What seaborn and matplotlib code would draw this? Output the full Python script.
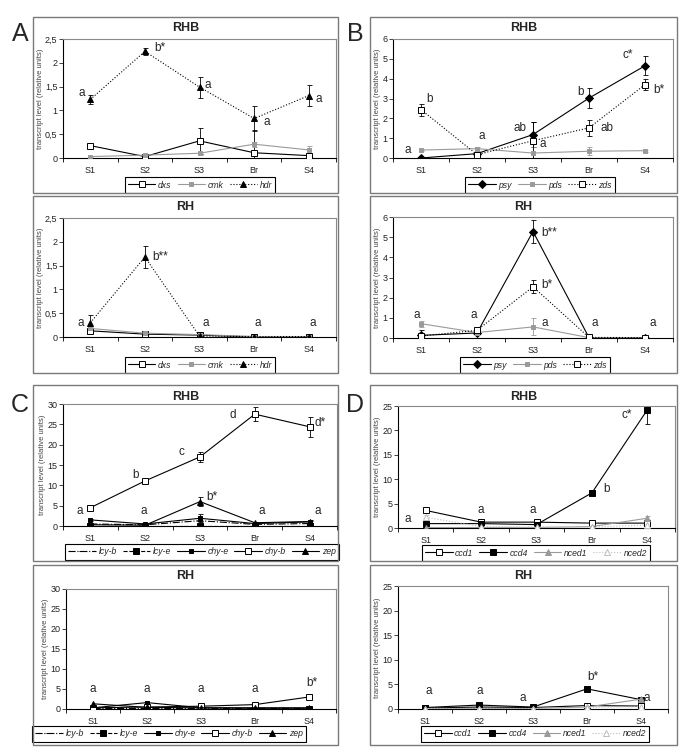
import numpy as np
import pandas as pd
import seaborn as sns
import matplotlib
matplotlib.use('Agg')
import matplotlib.pyplot as plt
from matplotlib.patches import Rectangle
from matplotlib.ticker import FuncFormatter, FixedLocator

# ---- data ----
stages = ["S1", "S2", "S3", "Br", "S4"]

# panel A  (MEP pathway)
a_rhb_dxs = [0.26, 0.03, 0.36, 0.11, 0.05]
a_rhb_dxs_err = [0.02, 0.01, 0.27, 0.48, 0.03]
a_rhb_cmk = [0.03, 0.06, 0.10, 0.29, 0.17]
a_rhb_cmk_err = [0.01, 0.02, 0.03, 0.05, 0.09]
a_rhb_hdr = [1.23, 2.24, 1.49, 0.83, 1.31]
a_rhb_hdr_err = [0.10, 0.08, 0.22, 0.26, 0.22]

a_rh_dxs = [0.13, 0.06, 0.04, 0.0, 0.0]
a_rh_dxs_err = [0.02, 0.01, 0.01, 0.0, 0.0]
a_rh_cmk = [0.18, 0.08, 0.05, 0.01, 0.0]
a_rh_cmk_err = [0.03, 0.02, 0.02, 0.0, 0.0]
a_rh_hdr = [0.30, 1.68, 0.02, 0.01, 0.01]
a_rh_hdr_err = [0.17, 0.24, 0.01, 0.0, 0.0]

# panel B
b_rhb_psy = [0.0, 0.22, 1.18, 3.02, 4.65]
b_rhb_psy_err = [0.02, 0.10, 0.62, 0.50, 0.47]
b_rhb_pds = [0.40, 0.47, 0.25, 0.34, 0.37]
b_rhb_pds_err = [0.03, 0.10, 0.30, 0.20, 0.05]
b_rhb_zds = [2.44, 0.17, 0.87, 1.52, 3.70]
b_rhb_zds_err = [0.30, 0.10, 0.95, 0.40, 0.27]

b_rh_psy = [0.13, 0.25, 5.28, 0.02, 0.0]
b_rh_psy_err = [0.05, 0.05, 0.58, 0.0, 0.0]
b_rh_pds = [0.71, 0.27, 0.55, 0.02, 0.0]
b_rh_pds_err = [0.15, 0.05, 0.42, 0.0, 0.0]
b_rh_zds = [0.10, 0.38, 2.54, 0.03, 0.02]
b_rh_zds_err = [0.28, 0.10, 0.32, 0.0, 0.0]

# panel C
c_rhb_lcyb = [0.5, 0.3, 1.3, 0.4, 0.6]
c_rhb_lcye = [0.1, 0.1, 0.1, 0.1, 0.1]
c_rhb_chye = [1.5, 0.5, 1.9, 0.6, 1.0]
c_rhb_chye_err = [0.2, 0.1, 1.0, 0.2, 0.3]
c_rhb_chyb = [4.5, 11.1, 17.0, 27.5, 24.4]
c_rhb_chyb_err = [0.3, 0.4, 1.3, 1.8, 2.5]
c_rhb_zep = [0.3, 0.2, 6.0, 0.8, 1.1]
c_rhb_zep_err = [0.1, 0.1, 1.2, 0.2, 0.3]

c_rh_lcyb = [0.2, 0.2, 0.2, 0.2, 0.2]
c_rh_lcye = [0.1, 0.1, 0.1, 0.1, 0.1]
c_rh_chye = [0.3, 1.6, 0.3, 0.2, 0.2]
c_rh_chyb = [0.3, 0.5, 0.7, 1.1, 3.0]
c_rh_zep = [1.3, 0.4, 0.3, 0.3, 0.3]

# panel D
d_rhb_ccd1 = [3.6, 1.2, 1.2, 1.0, 1.0]
d_rhb_ccd4 = [0.9, 0.9, 0.7, 7.2, 24.2]
d_rhb_ccd4_err = [0.1, 0.1, 0.1, 0.3, 2.8]
d_rhb_nced1 = [0.1, 0.1, 0.1, 0.3, 2.0]
d_rhb_nced1_err = [0.0, 0.0, 0.0, 0.1, 0.4]
d_rhb_nced2 = [2.2, 0.3, 0.2, 0.2, 0.6]
d_rhb_nced2_err = [0.5, 0.1, 0.1, 0.1, 0.2]

d_rh_ccd1 = [0.2, 0.4, 0.3, 0.7, 0.6]
d_rh_ccd4 = [0.3, 0.8, 0.4, 4.1, 1.9]
d_rh_nced1 = [0.1, 0.1, 0.1, 0.4, 2.0]
d_rh_nced2 = [0.1, 0.1, 0.1, 0.3, 0.5]

# significance letters: (text, x, y) in data units
a_rhb_letters = [("a", -0.16, 1.37), ("b*", 1.27, 2.31), ("a", 2.16, 1.53), ("a", 3.23, 0.76), ("a", 4.18, 1.23)]
a_rh_letters = [("a", -0.18, 0.30), ("b**", 1.28, 1.69), ("a", 2.11, 0.30), ("a", 3.07, 0.30), ("a", 4.07, 0.30)]
b_rhb_letters = [("a", -0.24, 0.39), ("b", 0.15, 2.97), ("a", 1.08, 1.13), ("ab", 1.77, 1.51), ("a", 2.18, 0.72),
                 ("b", 2.84, 3.31), ("ab", 3.32, 1.51), ("c*", 3.69, 5.21), ("b*", 4.24, 3.41)]
b_rh_letters = [("a", -0.08, 1.13), ("a", 0.95, 1.13), ("b**", 2.29, 5.2), ("b*", 2.25, 2.62), ("a", 2.21, 0.75),
                ("a", 3.11, 0.75), ("a", 4.14, 0.75)]
c_rhb_letters = [("a", -0.2, 3.8), ("b", 0.83, 12.5), ("a", 0.97, 3.8), ("c", 1.67, 18.3), ("b*", 2.21, 7.2),
                 ("d", 2.6, 27.3), ("a", 3.12, 3.8), ("d*", 4.2, 25.4), ("a", 4.14, 3.8)]
c_rh_letters = [("a", -0.01, 4.9), ("a", 1.0, 4.9), ("a", 2.0, 4.9), ("a", 3.0, 4.9), ("b*", 4.06, 6.5)]
d_rhb_letters = [("a", -0.33, 1.9), ("a", 1.0, 3.6), ("a", 1.94, 3.6), ("b", 3.26, 7.9), ("c*", 3.63, 23.1)]
d_rh_letters = [("a", 0.07, 3.6), ("a", 1.02, 3.6), ("a", 1.81, 2.2), ("b*", 3.11, 6.6), ("a", 4.11, 2.2)]

# ---- styles ----
GRAY = "#9a9a9a"
LIGHT = "#bdbdbd"
sty = {
    "dxs": dict(color="black", ls="-", marker="s", mfc="white", mec="black", ms=4),
    "cmk": dict(color=GRAY, ls="-", marker="s", mfc=GRAY, mec=GRAY, ms=3.3),
    "hdr": dict(color="black", ls=":", marker="^", mfc="black", mec="black", ms=5),
    "psy": dict(color="black", ls="-", marker="D", mfc="black", mec="black", ms=4),
    "pds": dict(color=GRAY, ls="-", marker="s", mfc=GRAY, mec=GRAY, ms=3.3),
    "zds": dict(color="black", ls=":", marker="s", mfc="white", mec="black", ms=5),
    "lcy-b": dict(color="black", ls="-.", marker="_", mfc="black", mec="black", ms=5),
    "lcy-e": dict(color="black", ls="--", marker="s", mfc="black", mec="black", ms=5),
    "chy-e": dict(color="black", ls="-", marker="s", mfc="black", mec="black", ms=3),
    "chy-b": dict(color="black", ls="-", marker="s", mfc="white", mec="black", ms=5),
    "zep": dict(color="black", ls="-", marker="^", mfc="black", mec="black", ms=4),
    "ccd1": dict(color="black", ls="-", marker="s", mfc="white", mec="black", ms=4),
    "ccd4": dict(color="black", ls="-", marker="s", mfc="black", mec="black", ms=4),
    "nced1": dict(color=GRAY, ls="-", marker="^", mfc=GRAY, mec=GRAY, ms=4),
    "nced2": dict(color=LIGHT, ls=":", marker="^", mfc="white", mec=LIGHT, ms=4),
}

sns.set_theme(style="white")
plt.rcParams['font.family'] = ['Liberation Sans', 'DejaVu Sans']

W, H = 685, 753
fig = plt.figure(figsize=(W / 100, H / 100), dpi=100)


def fx(x):
    return x / W


def fy(y):
    return 1 - y / H


def box(l, t, r, b):
    fig.patches.append(Rectangle((fx(l), fy(b)), fx(r - l), (b - t) / H, transform=fig.transFigure,
                                 fill=False, edgecolor="#7a7a7a", lw=1.0))


def comma(v, pos):
    s = ("%g" % v)
    return s.replace(".", ",")


def panel(plot_px, box_px, title, title_y, ymax, ystep, series, letters, leg_center):
    l, t, r, b = plot_px
    box(*box_px)
    fig.text(fx((box_px[0] + box_px[2]) / 2), fy(title_y), title, ha="center", va="center",
             fontsize=9, fontweight="bold")
    ax = fig.add_axes([fx(l), fy(b), fx(r - l), (b - t) / H])
    x = np.arange(len(stages))
    for name, vals, err in series:
        s = sty[name]
        df = pd.DataFrame({"stage": x, "level": vals})
        sns.lineplot(data=df, x="stage", y="level", ax=ax, color=s["color"], linestyle=s["ls"],
                     marker=s["marker"], markerfacecolor=s["mfc"], markeredgecolor=s["mec"],
                     markersize=s["ms"], markeredgewidth=0.7, linewidth=0.8, label=name, zorder=3)
        if err is not None:
            ecol = "black" if s["color"] == "black" else s["color"]
            ax.errorbar(x, vals, yerr=err, fmt="none", ecolor=ecol, elinewidth=0.6,
                        capsize=1.8, capthick=0.6, zorder=2)
    for txt, lx, ly in letters:
        ax.text(lx, ly, txt, ha="center", va="center", fontsize=8.5)
    ax.set_xlim(-0.5, len(stages) - 0.5)
    ax.set_ylim(0, ymax)
    ax.set_yticks(np.arange(0, ymax + 1e-9, ystep))
    ax.yaxis.set_major_formatter(FuncFormatter(comma))
    ax.set_xticks(x)
    ax.set_xticklabels(stages)
    ax.xaxis.set_minor_locator(FixedLocator(np.arange(-0.5, len(stages), 1.0)))
    ax.tick_params(axis="x", which="major", length=0, labelsize=6.5, pad=6, labelcolor="#222222")
    ax.tick_params(axis="x", which="minor", bottom=True, direction="out", length=3, width=0.6, color="black")
    ax.tick_params(axis="y", left=True, direction="out", length=3, width=0.6, labelsize=6.5, pad=1,
                   labelcolor="#222222")
    ax.set_xlabel("")
    ax.set_ylabel("transcript level (relative units)", fontsize=5.5, labelpad=1, color="#444444")
    for sp in ["left", "bottom"]:
        ax.spines[sp].set_color("black")
        ax.spines[sp].set_linewidth(0.8)
    for sp in ["top", "right"]:
        ax.spines[sp].set_color("#8a8a8a")
        ax.spines[sp].set_linewidth(0.8)
    ax.set_facecolor("none")
    h, lab = ax.get_legend_handles_labels()
    leg = ax.legend(h, lab, loc="center", bbox_to_anchor=(fx(leg_center[0]), fy(leg_center[1])),
                    bbox_transform=fig.transFigure, ncol=len(lab), frameon=True,
                    fancybox=False, framealpha=1, edgecolor="black", handlelength=3.2,
                    handletextpad=0.3, columnspacing=0.7, borderpad=0.35, borderaxespad=0,
                    prop={"style": "italic", "size": 6.2})
    leg.get_frame().set_linewidth(0.8)
    return ax


# Panel A
panel((63, 39, 336, 158), (33, 17, 338, 193), "RHB", 28, 2.5, 0.5,
      [("dxs", a_rhb_dxs, a_rhb_dxs_err), ("cmk", a_rhb_cmk, a_rhb_cmk_err), ("hdr", a_rhb_hdr, a_rhb_hdr_err)],
      a_rhb_letters, (200, 185))
panel((63, 218, 336, 337), (33, 196, 338, 373), "RH", 207, 2.5, 0.5,
      [("dxs", a_rh_dxs, a_rh_dxs_err), ("cmk", a_rh_cmk, a_rh_cmk_err), ("hdr", a_rh_hdr, a_rh_hdr_err)],
      a_rh_letters, (200, 365))
# Panel B
panel((393, 39, 673, 158), (370, 17, 677, 193), "RHB", 28, 6, 1,
      [("psy", b_rhb_psy, b_rhb_psy_err), ("pds", b_rhb_pds, b_rhb_pds_err), ("zds", b_rhb_zds, b_rhb_zds_err)],
      b_rhb_letters, (540, 185))
panel((393, 217, 673, 338), (370, 196, 677, 373), "RH", 207, 6, 1,
      [("psy", b_rh_psy, b_rh_psy_err), ("pds", b_rh_pds, b_rh_pds_err), ("zds", b_rh_zds, b_rh_zds_err)],
      b_rh_letters, (535, 365))
# Panel C
panel((63, 404, 337, 526), (33, 385, 338, 561), "RHB", 397, 30, 5,
      [("lcy-b", c_rhb_lcyb, None), ("lcy-e", c_rhb_lcye, None), ("chy-e", c_rhb_chye, c_rhb_chye_err),
       ("chy-b", c_rhb_chyb, c_rhb_chyb_err), ("zep", c_rhb_zep, c_rhb_zep_err)],
      c_rhb_letters, (202, 552))
panel((66, 589, 336, 709), (33, 565, 338, 745), "RH", 576, 30, 5,
      [("lcy-b", c_rh_lcyb, None), ("lcy-e", c_rh_lcye, None), ("chy-e", c_rh_chye, None),
       ("chy-b", c_rh_chyb, None), ("zep", c_rh_zep, None)],
      c_rh_letters, (169, 734))
# Panel D
panel((398, 406, 675, 528), (370, 385, 677, 561), "RHB", 397, 25, 5,
      [("ccd1", d_rhb_ccd1, None), ("ccd4", d_rhb_ccd4, d_rhb_ccd4_err),
       ("nced1", d_rhb_nced1, d_rhb_nced1_err), ("nced2", d_rhb_nced2, d_rhb_nced2_err)],
      d_rhb_letters, (536, 553))
panel((398, 586, 668, 709), (370, 565, 677, 745), "RH", 576, 25, 5,
      [("ccd1", d_rh_ccd1, None), ("ccd4", d_rh_ccd4, None), ("nced1", d_rh_nced1, None),
       ("nced2", d_rh_nced2, None)],
      d_rh_letters, (535, 734))

for lab, px, py in [("A", 20, 34), ("B", 355, 34), ("C", 20, 405), ("D", 355, 405)]:
    fig.text(fx(px), fy(py), lab, ha="center", va="center", fontsize=18)

fig.savefig("out.png", dpi=100)
